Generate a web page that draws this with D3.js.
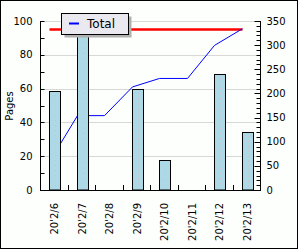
<!DOCTYPE html>
<html>
<head>
<meta charset="utf-8">
<script src="https://cdn.jsdelivr.net/npm/d3@7"></script>
<style>
  body { margin: 0; background: #fff; }
  svg { display: block; font-family: "DejaVu Sans", sans-serif; }
</style>
</head>
<body>
<div id="chart"></div>
<script>
// data
const days = ["20'2/6", "20'2/7", "20'2/8", "20'2/9", "20'2/10", "20'2/11", "20'2/12", "20'2/13"];
const pages = [58.5, 95.5, 0, 59.5, 17.5, 0, 68.5, 34.5];
const total = [58.5, 154, 154, 213.5, 231, 231, 299.5, 334];
const target = 95;
const leftTicks = [0, 20, 40, 60, 80, 100];
const rightTicks = [0, 50, 100, 150, 200, 250, 300, 350];

const W = 300, H = 250;
const margin = {top: 21, right: 40, bottom: 60, left: 40};
const x0 = margin.left, x1 = W - margin.right, yTop = margin.top, yBot = H - margin.bottom;

const svg = d3.select("#chart").append("svg")
    .attr("width", W)
    .attr("height", H);

// background + border
svg.append("rect")
    .attr("x", 0.5).attr("y", 0.5)
    .attr("width", 297).attr("height", 248)
    .attr("fill", "#fcfffc")
    .attr("stroke", "#000");

const x = d3.scaleBand().domain(days).range([x0, x1]).padding(0);
const yL = d3.scaleLinear().domain([0, 100]).range([yBot, yTop]);
const yR = d3.scaleLinear().domain([0, 350]).range([yBot, yTop]);

const barX = d => Math.round(x(d) + 9) + 0.5;

// grid
svg.append("g").selectAll("line")
    .data(leftTicks.filter(t => t > 0))
    .join("line")
    .attr("x1", x0).attr("x2", x1)
    .attr("y1", d => Math.round(yL(d)) + 0.5)
    .attr("y2", d => Math.round(yL(d)) + 0.5)
    .attr("stroke", "#d8d8d8");

// target line
svg.append("line")
    .attr("x1", barX(days[0]))
    .attr("x2", barX(days[days.length - 1]))
    .attr("y1", yL(target)).attr("y2", yL(target))
    .attr("stroke", "#ff0000")
    .attr("stroke-width", 2.5);

// cumulative total line
svg.append("path")
    .datum(total)
    .attr("fill", "none")
    .attr("stroke", "#0000ff")
    .attr("stroke-width", 1)
    .attr("d", d3.line()
        .x((d, i) => barX(days[i]))
        .y(d => yR(d)));

// bars (drawn over the line)
const bars = svg.append("g").selectAll("g")
    .data(days.map((d, i) => ({day: d, v: pages[i]})).filter(d => d.v > 0))
    .join("g");

bars.append("rect")
    .attr("x", d => barX(d.day))
    .attr("y", d => Math.round(yL(d.v)) + 0.5)
    .attr("width", 11)
    .attr("height", d => yBot - Math.round(yL(d.v)) - 0.5)
    .attr("fill", "#add8e6")
    .attr("stroke", "#000");

bars.append("line")
    .attr("x1", d => barX(d.day) + 6)
    .attr("x2", d => barX(d.day) + 6)
    .attr("y1", d => yL(d.v) + 4)
    .attr("y2", yBot - 2)
    .attr("stroke", "#e8b0c0")
    .attr("stroke-dasharray", "1,4");

// left axis
const leftAxis = svg.append("g").attr("transform", `translate(${x0 + 0.5},0)`);
leftAxis.append("line").attr("y1", yTop).attr("y2", yBot).attr("stroke", "#000");
leftAxis.selectAll(".tk")
    .data(d3.range(0, 101, 10))
    .join("line")
    .attr("x1", 0).attr("x2", 4)
    .attr("y1", d => Math.round(yL(d)) + 0.5)
    .attr("y2", d => Math.round(yL(d)) + 0.5)
    .attr("stroke", "#000");
leftAxis.selectAll("text")
    .data(leftTicks)
    .join("text")
    .attr("x", -8)
    .attr("y", d => yL(d))
    .attr("dy", "0.35em")
    .attr("text-anchor", "end")
    .attr("font-size", 10)
    .text(d => d);

// right axis
const rightAxis = svg.append("g").attr("transform", `translate(${x1 + 0.5},0)`);
rightAxis.append("line").attr("y1", yTop).attr("y2", yBot).attr("stroke", "#000");
rightAxis.selectAll(".tk")
    .data(d3.range(0, 351, 10))
    .join("line")
    .attr("x1", d => d % 50 === 0 ? -6 : -4).attr("x2", 0)
    .attr("y1", d => Math.round(yR(d)) + 0.5)
    .attr("y2", d => Math.round(yR(d)) + 0.5)
    .attr("stroke", "#000");
rightAxis.selectAll("text")
    .data(rightTicks)
    .join("text")
    .attr("x", 6)
    .attr("y", d => yR(d))
    .attr("dy", "0.35em")
    .attr("font-size", 10)
    .text(d => d);

// bottom axis
svg.append("line")
    .attr("x1", x0).attr("x2", x1 + 1)
    .attr("y1", yBot + 0.5).attr("y2", yBot + 0.5)
    .attr("stroke", "#000");
svg.append("g").selectAll("line")
    .data(days.slice(1))
    .join("line")
    .attr("x1", d => Math.round(x(d)) + 0.5)
    .attr("x2", d => Math.round(x(d)) + 0.5)
    .attr("y1", yBot - 5).attr("y2", yBot)
    .attr("stroke", "#000");
svg.append("g").selectAll("text")
    .data(days)
    .join("text")
    .attr("transform", d => `translate(${x(d) + x.bandwidth() / 2 + 1},${yBot + 13}) rotate(-90)`)
    .attr("dy", "0.35em")
    .attr("text-anchor", "end")
    .attr("font-size", 10)
    .text(d => d);

// y title
svg.append("text")
    .attr("transform", `translate(9,106) rotate(-90)`)
    .attr("dy", "0.35em")
    .attr("text-anchor", "middle")
    .attr("font-size", 10)
    .text("Pages");

// legend
const lg = svg.append("g").attr("transform", "translate(61.5,13.5)");
lg.append("rect").attr("x", 3).attr("y", 3).attr("width", 67).attr("height", 21).attr("fill", "#b0b0b0");
lg.append("rect").attr("width", 67).attr("height", 21).attr("fill", "#ebe9f0").attr("stroke", "#000");
lg.append("line").attr("x1", 7.5).attr("x2", 17.5).attr("y1", 10).attr("y2", 10)
    .attr("stroke", "#0000ff").attr("stroke-width", 2);
lg.append("text").attr("x", 25.5).attr("y", 14.5).attr("font-size", 12).text("Total");
</script>
</body>
</html>
